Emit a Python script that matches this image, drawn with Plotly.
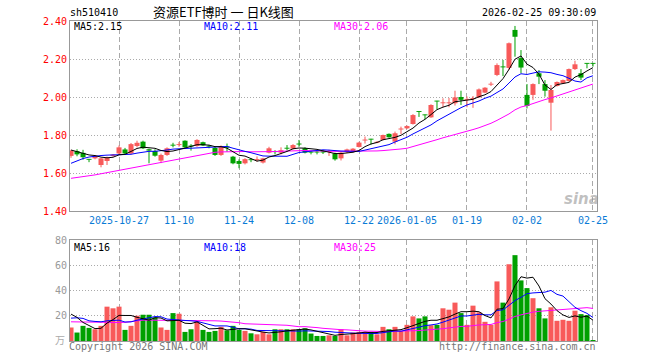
import plotly.graph_objects as go
import pandas as pd

dates = [
    "2025-10-15", "2025-10-16", "2025-10-17", "2025-10-20", "2025-10-21", "2025-10-22", "2025-10-23", "2025-10-24",
    "2025-10-27", "2025-10-28", "2025-10-29", "2025-10-30", "2025-10-31",
    "2025-11-03", "2025-11-04", "2025-11-05", "2025-11-06", "2025-11-07",
    "2025-11-10", "2025-11-11", "2025-11-12", "2025-11-13", "2025-11-14",
    "2025-11-17", "2025-11-18", "2025-11-19", "2025-11-20", "2025-11-21",
    "2025-11-24", "2025-11-25", "2025-11-26", "2025-11-27", "2025-11-28",
    "2025-12-01", "2025-12-02", "2025-12-03", "2025-12-04", "2025-12-05",
    "2025-12-08", "2025-12-09", "2025-12-10", "2025-12-11", "2025-12-12",
    "2025-12-15", "2025-12-16", "2025-12-17", "2025-12-18", "2025-12-19",
    "2025-12-22", "2025-12-23", "2025-12-24", "2025-12-25", "2025-12-26",
    "2025-12-29", "2025-12-30", "2025-12-31",
    "2026-01-05", "2026-01-06", "2026-01-07", "2026-01-08", "2026-01-09",
    "2026-01-12", "2026-01-13", "2026-01-14", "2026-01-15", "2026-01-16",
    "2026-01-19", "2026-01-20", "2026-01-21", "2026-01-22", "2026-01-23",
    "2026-01-26", "2026-01-27", "2026-01-28", "2026-01-29", "2026-01-30",
    "2026-02-02", "2026-02-03", "2026-02-04", "2026-02-05", "2026-02-06",
    "2026-02-09", "2026-02-10", "2026-02-11", "2026-02-12", "2026-02-13",
    "2026-02-24", "2026-02-25",
]

opens = [1.690, 1.715, 1.706, 1.673, 1.677, 1.642, 1.663, 1.690, 1.703, 1.724,
         1.703, 1.742, 1.765, 1.725, 1.716, 1.665, 1.695, 1.748, 1.748, 1.770,
         1.744, 1.742, 1.762, 1.743, 1.732, 1.695, 1.740, 1.686, 1.663, 1.651,
         1.672, 1.668, 1.655, 1.707, 1.714, 1.707, 1.732, 1.728, 1.754, 1.730,
         1.712, 1.712, 1.715, 1.712, 1.703, 1.677, 1.710, 1.713, 1.737, 1.772,
         1.779, 1.760, 1.774, 1.806, 1.765, 1.830, 1.835, 1.858, 1.925, 1.907,
         1.893, 1.980, 1.968, 1.968, 1.967, 2.000, 1.985, 1.990, 1.998, 2.023,
         2.066, 2.116, 2.160, 2.153, 2.353, 2.205, 2.011, 2.011, 2.125, 2.068,
         1.970, 2.058, 2.072, 2.084, 2.147, 2.125, 2.178, 2.178]
highs = [1.722, 1.725, 1.722, 1.674, 1.694, 1.680, 1.686, 1.700, 1.745, 1.732,
         1.758, 1.770, 1.770, 1.728, 1.725, 1.702, 1.735, 1.759, 1.763, 1.772,
         1.752, 1.778, 1.765, 1.748, 1.740, 1.745, 1.755, 1.690, 1.672, 1.678,
         1.678, 1.687, 1.680, 1.738, 1.720, 1.735, 1.747, 1.752, 1.774, 1.735,
         1.715, 1.718, 1.720, 1.722, 1.707, 1.712, 1.728, 1.731, 1.764, 1.792,
         1.780, 1.768, 1.802, 1.808, 1.818, 1.844, 1.850, 1.910, 1.925, 1.908,
         1.962, 1.980, 1.993, 1.995, 2.033, 2.033, 2.003, 2.005, 2.045, 2.052,
         2.080, 2.177, 2.195, 2.287, 2.374, 2.247, 2.068, 2.072, 2.142, 2.089,
         2.063, 2.082, 2.092, 2.150, 2.191, 2.147, 2.178, 2.178]
lows = [1.680, 1.688, 1.670, 1.657, 1.672, 1.630, 1.642, 1.686, 1.695, 1.698,
        1.698, 1.735, 1.726, 1.651, 1.686, 1.652, 1.690, 1.735, 1.738, 1.732,
        1.718, 1.738, 1.742, 1.730, 1.690, 1.690, 1.712, 1.646, 1.625, 1.645,
        1.657, 1.660, 1.650, 1.703, 1.698, 1.698, 1.718, 1.725, 1.738, 1.703,
        1.698, 1.698, 1.700, 1.690, 1.665, 1.666, 1.705, 1.708, 1.734, 1.755,
        1.750, 1.757, 1.772, 1.786, 1.751, 1.805, 1.832, 1.855, 1.895, 1.883,
        1.890, 1.935, 1.946, 1.946, 1.955, 1.958, 1.946, 1.943, 1.995, 2.020,
        2.058, 2.110, 2.110, 2.142, 2.212, 2.125, 1.940, 1.985, 2.068, 2.002,
        1.823, 2.055, 2.070, 2.080, 2.142, 2.089, 2.151, 2.160]
closes = [1.718, 1.698, 1.683, 1.671, 1.689, 1.677, 1.680, 1.697, 1.735, 1.703,
          1.752, 1.759, 1.730, 1.718, 1.691, 1.695, 1.730, 1.745, 1.751, 1.735,
          1.740, 1.774, 1.745, 1.740, 1.695, 1.740, 1.733, 1.651, 1.648, 1.673,
          1.668, 1.673, 1.677, 1.730, 1.711, 1.720, 1.729, 1.747, 1.751, 1.707,
          1.708, 1.709, 1.708, 1.715, 1.672, 1.707, 1.724, 1.728, 1.760, 1.775,
          1.777, 1.763, 1.800, 1.788, 1.809, 1.833, 1.847, 1.905, 1.922, 1.905,
          1.958, 1.977, 1.971, 1.971, 1.998, 1.985, 1.990, 1.995, 2.040, 2.049,
          2.069, 2.168, 2.157, 2.283, 2.317, 2.155, 1.953, 2.068, 2.107, 2.033,
          2.037, 2.079, 2.089, 2.147, 2.172, 2.102, 2.176, 2.176]
volumes = [10.7, 6.7, 12.0, 10.4, 9.3, 12.0, 27.2, 25.9, 27.2, 8.8,
           12.0, 20.0, 20.8, 20.8, 18.7, 10.7, 8.8, 22.1, 21.6, 7.2,
           9.3, 15.5, 8.8, 7.2, 8.0, 11.2, 8.5, 12.0, 8.8, 8.0,
           6.1, 5.3, 7.2, 5.3, 9.3, 9.3, 9.3, 9.3, 9.3, 10.1,
           5.9, 4.0, 4.0, 4.5, 4.0, 9.3, 4.5, 6.7, 7.2, 7.2,
           7.2, 5.3, 11.2, 9.3, 11.2, 8.0, 12.8, 19.5, 17.9, 19.5,
           12.5, 12.8, 25.9, 24.8, 30.4, 22.1, 12.8, 28.0, 22.7, 15.2,
           12.8, 47.2, 30.4, 60.8, 68.0, 48.0, 41.9, 33.9, 25.9, 17.9,
           26.7, 16.0, 16.8, 16.0, 24.0, 21.3, 20.5, 0.8]

ma5_lead = [1.721, 1.713, 1.704, 1.695]
ma10_lead = [1.651, 1.665, 1.676, 1.684, 1.689, 1.692, 1.694, 1.695, 1.697]
ma30_lead = [1.572, 1.576, 1.580, 1.585, 1.590, 1.596, 1.602, 1.608, 1.615, 1.621,
             1.627, 1.633, 1.639, 1.645, 1.651, 1.657, 1.663, 1.669, 1.675, 1.681,
             1.687, 1.693, 1.699, 1.705, 1.709, 1.711, 1.712, 1.712, 1.712]
vol_ma5_lead = [21.3, 18.7, 14.7, 12.0]
vol_ma10_lead = [18.1, 18.4, 17.9, 16.0, 15.5, 15.2, 16.0, 16.5, 16.5]
vol_ma30_lead = [15.2, 15.2, 15.2, 15.2, 15.2, 15.0, 14.8, 14.6, 14.6, 14.8,
                 15.4, 16.2, 16.5, 16.5, 16.5, 16.5, 16.5, 16.5, 16.5, 16.5,
                 16.4, 16.2, 16.0, 16.0, 16.0, 15.8, 15.5, 15.0, 14.5]

tick_dates = ["2025-10-27", "2025-11-10", "2025-11-24", "2025-12-08", "2025-12-22",
              "2026-01-05", "2026-01-19", "2026-02-02", "2026-02-25"]
tick_labels = ["2025-10-27", "11-10", "11-24", "12-08", "12-22",
               "2026-01-05", "01-19", "02-02", "02-25"]
price_ticks = [1.40, 1.60, 1.80, 2.00, 2.20, 2.40]
vol_ticks = [20, 40, 60, 80]
title_code = "sh510410"
title_name = "资源ETF博时 一 日K线图"
timestamp = "2026-02-25 09:30:09"
price_ma_labels = ["MA5:2.15", "MA10:2.11", "MA30:2.06"]
vol_ma_labels = ["MA5:16", "MA10:18", "MA30:25"]


def moving_avg(values, n, lead):
    s = pd.Series(values).rolling(n).mean().tolist()
    return list(lead) + s[len(lead):]


RED = "#F85A5A"
GREEN = "#00A000"
MONO = "DejaVu Sans Mono"

up = [c >= o for o, c in zip(opens, closes)]
colors = [RED if u else GREEN for u in up]

min_h = 0.005
body_base, body_h = [], []
for o, c in zip(opens, closes):
    h = abs(c - o)
    if h < min_h:
        body_base.append((o + c) / 2 - min_h / 2)
        body_h.append(min_h)
    else:
        body_base.append(min(o, c))
        body_h.append(h)

fig = go.Figure()

# wicks
for want, col in ((True, RED), (False, GREEN)):
    wx, wy = [], []
    for d, h, l, u in zip(dates, highs, lows, up):
        if u == want:
            wx += [d, d, None]
            wy += [l, h, None]
    fig.add_trace(go.Scatter(x=wx, y=wy, mode="lines", line=dict(color=col, width=1),
                             xaxis="x", yaxis="y", hoverinfo="skip"))

# bodies
fig.add_trace(go.Bar(x=dates, y=body_h, base=body_base, marker=dict(color=colors, line=dict(width=0)),
                     width=0.84, xaxis="x", yaxis="y"))

# price MAs
for n, lead, col in ((30, ma30_lead, "#FF00FF"), (10, ma10_lead, "#0000FF"), (5, ma5_lead, "#000000")):
    fig.add_trace(go.Scatter(x=dates, y=moving_avg(closes, n, lead), mode="lines",
                             line=dict(color=col, width=1), xaxis="x", yaxis="y"))

# volume
fig.add_trace(go.Bar(x=dates, y=volumes, marker=dict(color=colors, line=dict(width=0)),
                     width=0.84, xaxis="x2", yaxis="y2"))
for n, lead, col in ((30, vol_ma30_lead, "#FF00FF"), (10, vol_ma10_lead, "#0000FF"), (5, vol_ma5_lead, "#000000")):
    fig.add_trace(go.Scatter(x=dates, y=moving_avg(volumes, n, lead), mode="lines",
                             line=dict(color=col, width=1), xaxis="x2", yaxis="y2"))

# window coords: plot x 70..597, main y 21..211, volume y 240..341 (page margin removed below)
H_TOP, H_BOT = 21, 341
span = H_BOT - H_TOP


def py(y_px):
    return (H_BOT - y_px) / span


def px(x_px):
    return (x_px - 70) / 527


xcommon = dict(type="category", categoryorder="array", categoryarray=dates,
               range=[-0.17, 87.67], tickvals=tick_dates, showgrid=True,
               gridcolor="#AAAAAA", griddash="5px,3px", gridwidth=1, ticks="",
               showline=True, linecolor="#999999", linewidth=1, mirror=True,
               zeroline=False, fixedrange=True)

fig.update_layout(
    width=660, height=360,
    margin=dict(l=70, r=660 - 597, t=H_TOP, b=360 - H_BOT),
    paper_bgcolor="white", plot_bgcolor="white",
    showlegend=False, barmode="overlay", hovermode=False,
    xaxis=dict(**xcommon, domain=[0, 1], anchor="y", ticktext=tick_labels,
               tickfont=dict(family=MONO, size=10, color="#0A7BD6")),
    yaxis=dict(domain=[py(211), 1], range=[1.40, 2.40], tickvals=price_ticks,
               ticktext=[f"{v:.2f}" for v in price_ticks],
               tickfont=dict(family=MONO, size=10, color="#FF0000"),
               showgrid=True, gridcolor="#AAAAAA", griddash="1px,2px", ticks="",
               showline=True, linecolor="#999999", linewidth=1, mirror=True, zeroline=False),
    xaxis2=dict(**xcommon, domain=[0, 1], anchor="y2", matches="x", showticklabels=False),
    yaxis2=dict(domain=[0, py(240)], range=[0, 80], tickvals=vol_ticks,
                ticktext=[str(v) for v in vol_ticks],
                tickfont=dict(family=MONO, size=10, color="#999999"),
                showgrid=True, gridcolor="#AAAAAA", griddash="1px,2px", ticks="",
                showline=True, linecolor="#999999", linewidth=1, mirror=True, zeroline=False),
)

ann = []


def add_text(text, x, y, color="#000", size=10, family=MONO, xanchor="left", **kw):
    ann.append(dict(text=text, x=x, y=y, xref="paper", yref="paper", showarrow=False,
                    xanchor=xanchor, yanchor="middle", borderpad=0,
                    font=dict(family=family, size=size, color=color), **kw))


add_text(title_code, px(69), py(12))
add_text(title_name, px(223), py(11), size=13, family="Noto Sans CJK SC", xanchor="center", height=17)
add_text(timestamp, 1.0, py(12), xanchor="right")
for lab, xx, col in zip(price_ma_labels, (73, 203, 333), ("#000000", "#0000FF", "#FF00FF")):
    add_text(lab, px(xx), py(26), color=col, height=12)
for lab, xx, col in zip(vol_ma_labels, (73, 203, 333), ("#000000", "#0000FF", "#FF00FF")):
    add_text(lab, px(xx), py(247), color=col, height=12)
add_text("万", px(66), py(339), color="#AAAAAA", family="Noto Sans CJK SC", size=10, xanchor="right")
add_text("Copyright 2026 SINA.COM", px(68), py(346), color="#777777")
add_text("http://finance.sina.com.cn", 1.0, py(346), color="#777777", xanchor="right")
ann.append(dict(text="<b><i>sina</i></b>", x=px(581), y=py(199), xref="paper", yref="paper",
                showarrow=False, xanchor="center", yanchor="middle",
                font=dict(family="DejaVu Sans", size=15, color="rgba(150,150,150,0.6)")))
fig.update_layout(annotations=ann)

fig.write_html("out.html", config={"displayModeBar": False, "staticPlot": True},
               post_script="document.body.style.margin='0px';")
